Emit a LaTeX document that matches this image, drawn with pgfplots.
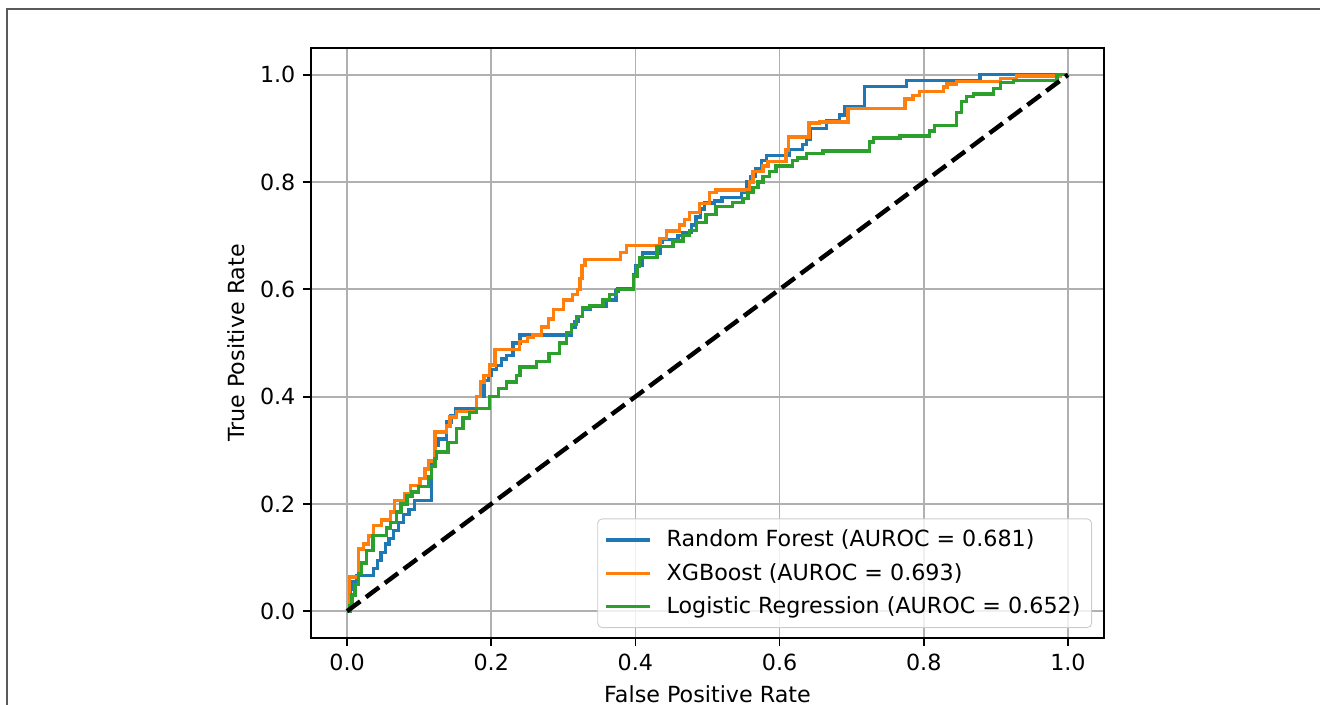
\documentclass[border=0pt]{standalone}
\usepackage{fontspec}
\setmainfont{DejaVu Sans}
\usepackage{pgfplots}
\pgfplotsset{compat=1.18}
\definecolor{mplblue}{HTML}{1F77B4}
\definecolor{mplorange}{HTML}{FF7F0E}
\definecolor{mplgreen}{HTML}{2CA02C}
\definecolor{mplgrid}{HTML}{B0B0B0}

\begin{document}
\begin{tikzpicture}
\useasboundingbox (0,0) rectangle (594pt,316.8pt);
%% frame of the screenshot
\draw[black!65, line width=0.9pt] (3.3pt,-2pt) -- (3.3pt,312.6pt) -- (596pt,312.6pt);
\begin{axis}[
  at={(139.95pt,29.7pt)}, anchor=south west,
  scale only axis, width=356.85pt, height=265.5pt,
  xmin=-0.05, xmax=1.05, ymin=-0.05, ymax=1.05,
  xtick={0,0.2,0.4,0.6,0.8,1.0},
  ytick={0,0.2,0.4,0.6,0.8,1.0},
  /pgf/number format/.cd, fixed, fixed zerofill, precision=1, assume math mode=true,
  /pgfplots/.cd,
  tick pos=left, tick align=outside, major tick length=3.5pt,
  every tick/.style={black, line width=0.8pt},
  axis line style={line width=0.8pt},
  grid=major, grid style={mplgrid, line width=0.8pt},
  xlabel={False Positive Rate},
  ylabel={True Positive Rate},
  legend cell align=left,
  legend style={at={(1,0)}, anchor=south east, xshift=-5.4pt, yshift=4.5pt,
    draw=black!20, fill=white,
    fill opacity=0.8, text opacity=1, rounded corners=2pt, row sep=1.8pt,
    inner xsep=3pt, inner ysep=3pt},
  legend image code/.code={\draw[#1] (0pt,0pt) -- (20pt,0pt); \path (24.5pt,0pt);},
]
%% Random Forest
\addplot[mplblue, line width=1.5pt, const plot mark left] coordinates {
(0,0) (0.004,0.04) (0.008,0.055) (0.013,0.066) (0.037,0.08) (0.042,0.095)
(0.047,0.11) (0.053,0.125) (0.058,0.135) (0.064,0.15) (0.071,0.165) (0.078,0.18)
(0.086,0.19) (0.094,0.206) (0.117,0.275) (0.122,0.309) (0.127,0.321) (0.138,0.353)
(0.144,0.365) (0.15,0.378) (0.18,0.40) (0.19,0.43) (0.196,0.44) (0.2,0.45)
(0.207,0.458) (0.214,0.47) (0.221,0.477) (0.23,0.50) (0.24,0.515) (0.311,0.53)
(0.316,0.54) (0.321,0.55) (0.327,0.5625) (0.337,0.5675) (0.36,0.58) (0.373,0.597)
(0.376,0.601) (0.397,0.628) (0.401,0.644) (0.41,0.668) (0.434,0.687) (0.438,0.693)
(0.459,0.70) (0.466,0.706) (0.478,0.72) (0.484,0.735) (0.49,0.75) (0.496,0.761)
(0.51,0.765) (0.52,0.771) (0.547,0.78) (0.555,0.80) (0.56,0.81) (0.567,0.825)
(0.575,0.84) (0.582,0.85) (0.614,0.861) (0.632,0.87) (0.637,0.88) (0.642,0.90)
(0.665,0.915) (0.683,0.925) (0.69,0.94) (0.718,0.978) (0.776,0.989) (0.878,1.0)
(1.0,1.0)
};
\addlegendentry{Random Forest (AUROC = 0.681)}
%% XGBoost
\addplot[mplorange, line width=1.5pt, const plot mark left] coordinates {
(0,0) (0.003,0.064) (0.016,0.116) (0.023,0.125) (0.03,0.14) (0.037,0.16)
(0.048,0.17) (0.06,0.185) (0.066,0.206) (0.08,0.22) (0.088,0.234) (0.101,0.247)
(0.108,0.265) (0.113,0.28) (0.122,0.334) (0.138,0.345) (0.143,0.362) (0.152,0.372)
(0.18,0.40) (0.185,0.427) (0.19,0.44) (0.198,0.459) (0.205,0.4875) (0.239,0.503)
(0.25,0.51) (0.258,0.515) (0.27,0.53) (0.279,0.545) (0.286,0.5625) (0.3,0.58)
(0.313,0.59) (0.32,0.60) (0.323,0.62) (0.326,0.645) (0.33,0.656) (0.379,0.669)
(0.388,0.682) (0.434,0.695) (0.443,0.709) (0.461,0.72) (0.468,0.73) (0.475,0.743)
(0.489,0.76) (0.503,0.78) (0.512,0.785) (0.558,0.80) (0.563,0.82) (0.577,0.83)
(0.584,0.839) (0.609,0.86) (0.612,0.884) (0.641,0.91) (0.655,0.912) (0.695,0.937)
(0.774,0.955) (0.785,0.961) (0.794,0.969) (0.827,0.977) (0.832,0.983) (0.845,0.988)
(0.906,0.993) (0.929,0.998) (0.99,1.0) (1.0,1.0)
};
\addlegendentry{XGBoost (AUROC = 0.693)}
%% Logistic Regression
\addplot[mplgreen, line width=1.5pt, const plot mark left] coordinates {
(0,0) (0.004,0.01) (0.007,0.03) (0.011,0.05) (0.016,0.07) (0.02,0.09)
(0.027,0.113) (0.036,0.141) (0.055,0.155) (0.06,0.165) (0.069,0.185) (0.075,0.2)
(0.083,0.215) (0.09,0.222) (0.099,0.232) (0.113,0.25) (0.117,0.27) (0.122,0.285)
(0.124,0.297) (0.14,0.315) (0.152,0.34) (0.161,0.36) (0.17,0.37) (0.18,0.378)
(0.198,0.4) (0.21,0.415) (0.221,0.427) (0.235,0.44) (0.24,0.455) (0.263,0.465)
(0.28,0.48) (0.295,0.5) (0.304,0.52) (0.311,0.535) (0.318,0.55) (0.327,0.565)
(0.337,0.57) (0.355,0.58) (0.364,0.59) (0.374,0.60) (0.397,0.625) (0.402,0.643)
(0.406,0.66) (0.43,0.68) (0.452,0.69) (0.466,0.70) (0.475,0.71) (0.485,0.725)
(0.498,0.74) (0.512,0.755) (0.535,0.762) (0.549,0.77) (0.556,0.78) (0.563,0.79)
(0.57,0.80) (0.577,0.81) (0.586,0.82) (0.595,0.83) (0.618,0.84) (0.625,0.845)
(0.637,0.853) (0.66,0.858) (0.725,0.875) (0.73,0.882) (0.767,0.886) (0.808,0.895)
(0.815,0.906) (0.845,0.93) (0.852,0.95) (0.859,0.96) (0.869,0.964) (0.897,0.975)
(0.906,0.986) (0.924,0.989) (0.985,1.0) (1.0,1.0)
};
\addlegendentry{Logistic Regression (AUROC = 0.652)}
%% chance line
\addplot[black, line width=2pt, dash pattern=on 7.4pt off 3.2pt, forget plot]
  coordinates {(0,0) (1,1)};
\end{axis}
\end{tikzpicture}
\end{document}
